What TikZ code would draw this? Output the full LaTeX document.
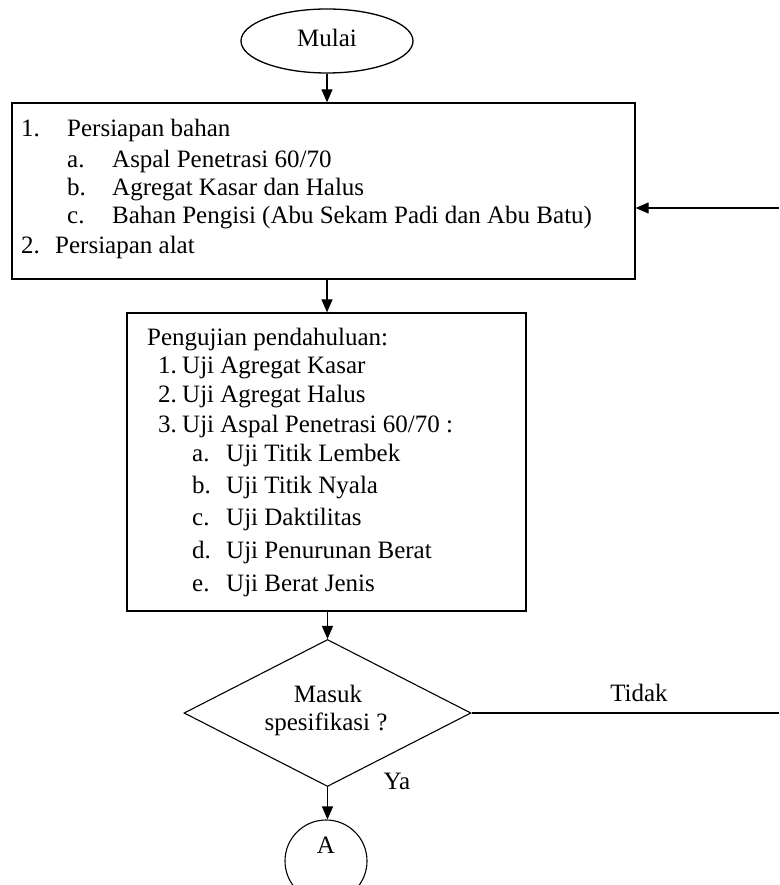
\documentclass[tikz,border=0pt]{standalone}
\usepackage{fontspec}
\setmainfont{Liberation Serif}
\usetikzlibrary{shapes.geometric,arrows.meta}
\begin{document}
\begin{tikzpicture}[x=1pt,y=-1pt,
  lw/.style={line width=1.3pt},
  txt/.style={anchor=west,inner sep=0pt,font=\fontsize{25}{30}\selectfont,text height=0.7em,text depth=0.22em,yshift=-3pt},
  ctxt/.style={txt,anchor=center},
  arr/.style={line width=1.2pt,-{Triangle[length=13pt,width=11pt]}},
  boxst/.style={draw,lw,rectangle,inner sep=0pt}]
\useasboundingbox (0,0) rectangle (779,885);
\node[draw,lw,ellipse,minimum width=172pt,minimum height=64pt,inner sep=0pt] (start) at (327,41) {};
\node[ctxt] (startt) at (327,41) {Mulai};
\node[boxst,minimum width=623pt,minimum height=176pt] (box1) at (323.5,191) {};
\node[txt] (b1n1) at (21,131) {1.};
\node[txt] (b1t1) at (67,131) {Persiapan bahan};
\node[txt] (b1na) at (67,162) {a.};
\node[txt] (b1ta) at (112,162) {Aspal Penetrasi 60/70};
\node[txt] (b1nb) at (67,190) {b.};
\node[txt] (b1tb) at (112,190) {Agregat Kasar dan Halus};
\node[txt] (b1nc) at (67,218) {c.};
\node[txt] (b1tc) at (112,218) {Bahan Pengisi (Abu Sekam Padi dan Abu Batu)};
\node[txt] (b1n2) at (21,248) {2.};
\node[txt] (b1t2) at (55,248) {Persiapan alat};
\node[boxst,minimum width=399pt,minimum height=298pt] (box2) at (326.5,462) {};
\node[txt] (b2h) at (147,340) {Pengujian pendahuluan:};
\node[txt] (b2n1) at (158,368) {1.};
\node[txt] (b2t1) at (182,368) {Uji Agregat Kasar};
\node[txt] (b2n2) at (158,397) {2.};
\node[txt] (b2t2) at (182,397) {Uji Agregat Halus};
\node[txt] (b2n3) at (158,427) {3.};
\node[txt] (b2t3) at (182,427) {Uji Aspal Penetrasi 60/70 :};
\node[txt] (b2na) at (192,456) {a.};
\node[txt] (b2ta) at (226,456) {Uji Titik Lembek};
\node[txt] (b2nb) at (192,488) {b.};
\node[txt] (b2tb) at (226,488) {Uji Titik Nyala};
\node[txt] (b2nc) at (192,520) {c.};
\node[txt] (b2tc) at (226,520) {Uji Daktilitas};
\node[txt] (b2nd) at (192,553) {d.};
\node[txt] (b2td) at (226,553) {Uji Penurunan Berat};
\node[txt] (b2ne) at (192,586) {e.};
\node[txt] (b2te) at (226,586) {Uji Berat Jenis};
\node[draw,line width=1.1pt,diamond,minimum width=287pt,minimum height=147pt,inner sep=0pt] (dec) at (327.5,713) {};
\node[ctxt] (dect1) at (328,697) {Masuk};
\node[ctxt] (dect2) at (326,725) {spesifikasi ?};
\node[ctxt] (tidak) at (639,696) {Tidak};
\node[ctxt] (ya) at (397,784) {Ya};
\node[draw,line width=1.1pt,circle,minimum size=82pt,inner sep=0pt] (conA) at (326,861) {};
\node[ctxt] (conAt) at (326,848) {A};
\coordinate (ret) at (779,208);
\coordinate (tid) at (779,713);
\draw[arr] (start.south) -- (start.south |- box1.north);
\draw[arr] (box1.south -| start.south) -- (start.south |- box2.north);
\draw[arr] (box2.south -| dec.north) -- (dec.north);
\draw[arr] (dec.south) -- (dec.south |- conA.north);
\draw[arr] (ret) -- (ret -| box1.east);
\draw[line width=1.2pt] (dec.east) -- (tid);
\end{tikzpicture}
\end{document}
